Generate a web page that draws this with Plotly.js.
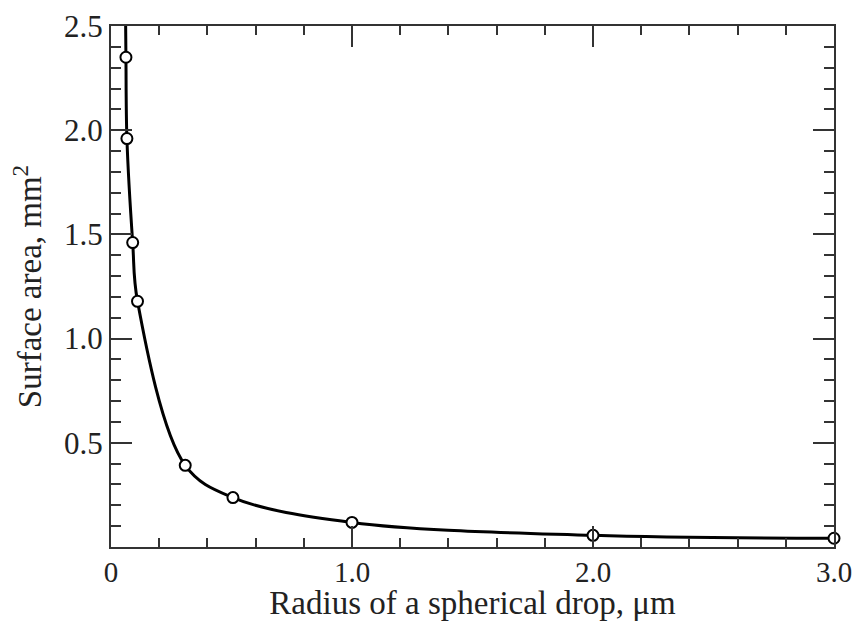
<!DOCTYPE html>
<html>
<head>
<meta charset="utf-8">
<script src="https://cdn.plot.ly/plotly-3.0.1.min.js"></script>
<style>html,body{margin:0;padding:0;background:#fff;}#chart{width:857px;height:621px;}</style>
</head>
<body>
<div id="chart"></div>
<script>
// Measured points (radius in µm, surface area in mm²)
const radius = [0.062, 0.066, 0.090, 0.110, 0.308, 0.506, 1.0, 2.0, 3.0];
const area   = [2.35, 1.96, 1.461, 1.179, 0.392, 0.237, 0.118, 0.056, 0.042];

// Smooth curve (extends above the top of the frame)
const curveR = [0.060, 0.062, 0.066, 0.090, 0.110, 0.308, 0.506, 1.0, 2.0, 3.0];
const curveA = [2.60, 2.35, 1.96, 1.461, 1.179, 0.392, 0.237, 0.118, 0.056, 0.042];

const xTickVals = [0, 1, 2, 3];
const xTickText = ['0', '1.0', '2.0', '3.0'];
const yTickVals = [0.5, 1.0, 1.5, 2.0, 2.5];
const yTickText = ['0.5', '1.0', '1.5', '2.0', '2.5'];

const family = 'Liberation Serif, Times New Roman, serif';
const tickFont = {family: family, size: 31, color: '#222'};
const xTickFont = {family: family, size: 29, color: '#222'};
const titleFont = {family: family, size: 33, color: '#222'};
const axisColor = '#333';

const traces = [
  {x: curveR, y: curveA, type: 'scatter', mode: 'lines',
   line: {color: '#000', width: 3, shape: 'spline', smoothing: 1.0},
   hoverinfo: 'skip', showlegend: false},
  {x: radius, y: area, type: 'scatter', mode: 'markers',
   marker: {size: 11, color: '#fff', line: {color: '#000', width: 2}},
   cliponaxis: false, showlegend: false}
];

const layout = {
  width: 857, height: 621,
  margin: {l: 111, r: 23, t: 26, b: 74},
  paper_bgcolor: '#fff', plot_bgcolor: '#fff',
  font: tickFont,
  showlegend: false,
  xaxis: {
    range: [0, 3], showgrid: false, zeroline: false,
    showline: true, linecolor: axisColor, linewidth: 2, mirror: 'ticks',
    tickmode: 'array', tickvals: xTickVals, ticktext: xTickText,
    ticks: 'inside', ticklen: 21, tickwidth: 2, tickcolor: axisColor,
    minor: {tickmode: 'linear', tick0: 0, dtick: 0.2, ticks: 'inside', ticklen: 9, tickwidth: 2, tickcolor: axisColor, showgrid: false},
    tickfont: xTickFont, ticklabelstandoff: -2,
    title: {text: 'Radius of a spherical drop, μm', font: titleFont, standoff: 1}
  },
  yaxis: {
    range: [0, 2.5], showgrid: false, zeroline: false,
    showline: true, linecolor: axisColor, linewidth: 2, mirror: 'ticks',
    tickmode: 'array', tickvals: yTickVals, ticktext: yTickText,
    ticks: 'inside', ticklen: 21, tickwidth: 2, tickcolor: axisColor,
    minor: {tickmode: 'linear', tick0: 0, dtick: 0.1, ticks: 'inside', ticklen: 10, tickwidth: 2, tickcolor: axisColor, showgrid: false},
    tickfont: tickFont,
    title: {text: 'Surface area, mm<sup>2</sup>', font: titleFont, standoff: 12}
  }
};

Plotly.newPlot('chart', traces, layout, {displayModeBar: false, staticPlot: true});
</script>
</body>
</html>
